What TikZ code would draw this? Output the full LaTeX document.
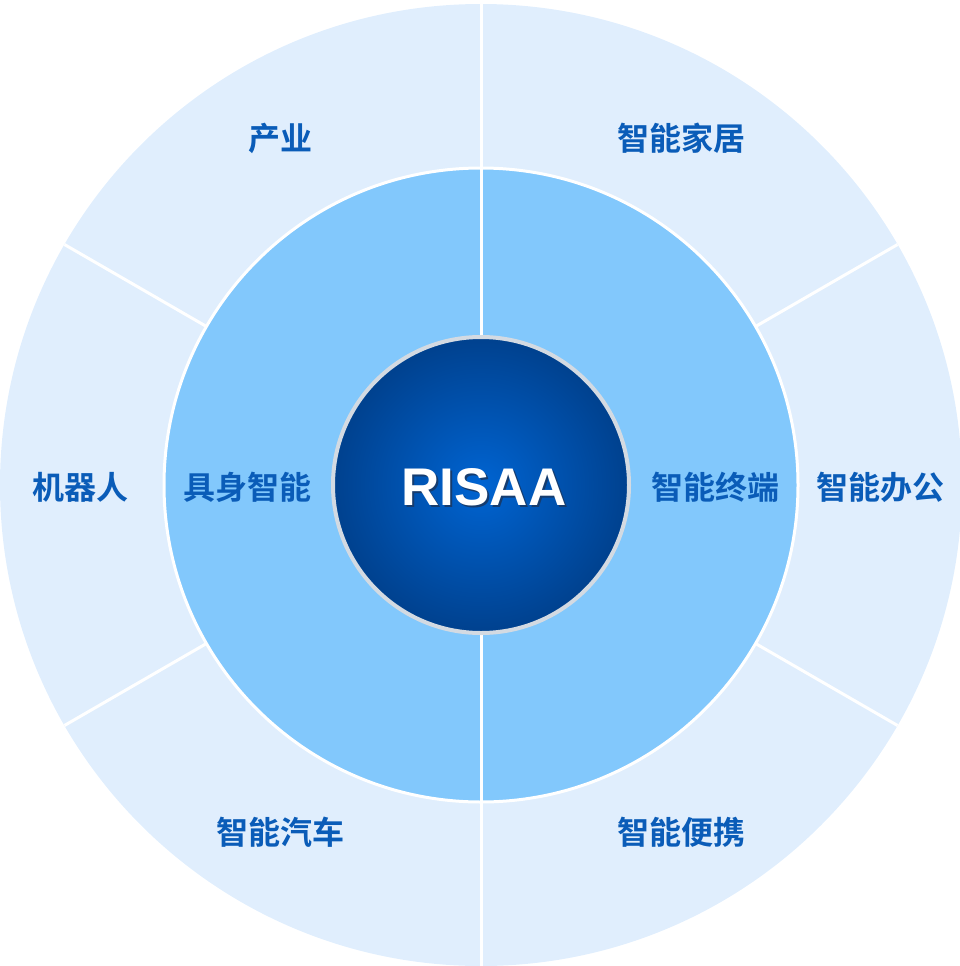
\documentclass[tikz,border=0pt]{standalone}
\usepackage{fontspec}
\setmainfont{Liberation Sans}
\newfontfamily\cjk{Noto Sans CJK SC Bold}
\definecolor{outerring}{HTML}{E0EEFD}
\definecolor{innerring}{HTML}{82C8FC}
\definecolor{txtblue}{HTML}{0A5CB8}
\definecolor{ballin}{HTML}{0064D2}
\definecolor{ballout}{HTML}{00418E}
\definecolor{ballrim}{HTML}{D3DAE2}
\definecolor{shadowc}{HTML}{163C6E}
\tikzset{
  lbl/.style={text=txtblue, font=\cjk\fontsize{32}{35}\selectfont, inner sep=0pt},
  divider/.style={draw=white, line width=3pt},
}
\begin{document}
\begin{tikzpicture}[x=1pt,y=-1pt]
\useasboundingbox (0,0) rectangle (959,966);
\coordinate (c) at (481,485);
% outer ring
\fill[outerring] (c) circle (481);
% outer dividers
\foreach \a in {30,90,150,210,270,330}{
  \draw[divider] (c) -- ++(\a:-481);
}
% inner ring
\fill[innerring, draw=white, line width=3pt] (c) circle (317);
\draw[divider] (c) -- ++(0,-317);
\draw[divider] (c) -- ++(0,317);
% centre ball
\shade[inner color=ballin, outer color=ballout] (c) circle (148);
\draw[ballrim, line width=4pt] (c) circle (148);
% centre text with soft shadow
\node[text=white, font=\bfseries\fontsize{53}{58}\selectfont, inner sep=0pt] (risaa) at (484,488)
  {\rlap{\kern2pt\raisebox{-2.5pt}{\color{shadowc}RISAA}}RISAA};
% labels
\node[lbl] (l1) at (280,138) {产业};
\node[lbl] (l2) at (681,138) {智能家居};
\node[lbl] (l3) at (80,487) {机器人};
\node[lbl] (l4) at (880,487) {智能办公};
\node[lbl] (l5) at (280,832) {智能汽车};
\node[lbl] (l6) at (681,832) {智能便携};
\node[lbl] (l7) at (247,487) {具身智能};
\node[lbl] (l8) at (715,487) {智能终端};
\end{tikzpicture}
\end{document}
